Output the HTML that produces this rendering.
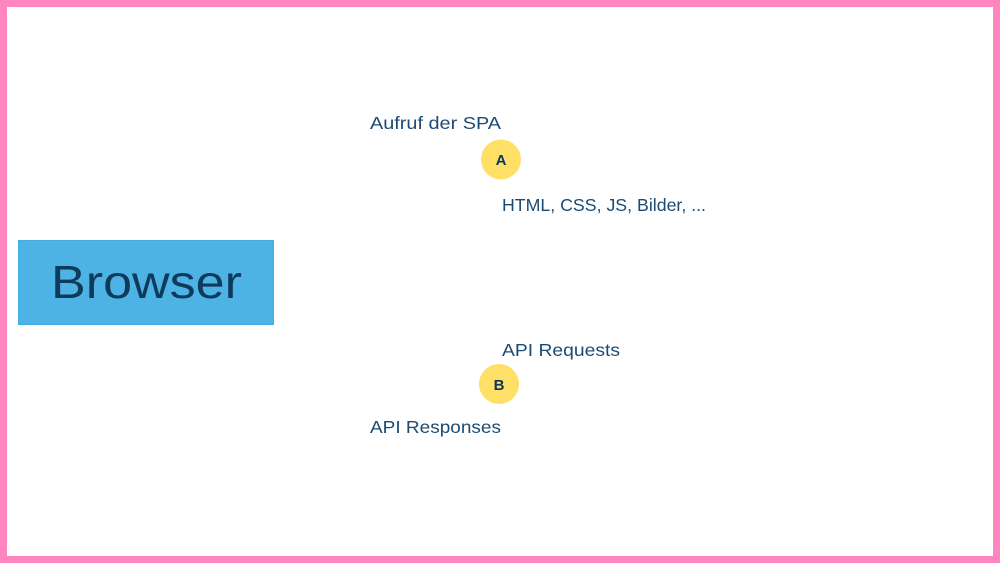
<!DOCTYPE html>
<html>
<head>
<meta charset="utf-8">
<style>
html,body{margin:0;padding:0;background:#fff;}
body{width:1000px;height:563px;overflow:hidden;}
svg{display:block;}
</style>
</head>
<body>
<svg width="1000" height="563" viewBox="0 0 1000 563" xmlns="http://www.w3.org/2000/svg">
  <rect x="0" y="0" width="1000" height="563" fill="#ff85c0"/>
  <rect x="7" y="7" width="986" height="549" fill="#ffffff"/>

  <rect x="18.5" y="240.5" width="255" height="84" fill="#4db3e4" stroke="#45acdf" stroke-width="1"/>
  <text x="51" y="298" font-family="Liberation Sans, sans-serif" font-size="46" fill="#0e3a5c" textLength="191" lengthAdjust="spacingAndGlyphs">Browser</text>

  <g font-family="Liberation Sans, sans-serif" font-size="17.5" fill="#1b4a73">
    <text x="370" y="129" textLength="131" lengthAdjust="spacingAndGlyphs">Aufruf der SPA</text>
    <text x="502" y="211" textLength="204" lengthAdjust="spacingAndGlyphs">HTML, CSS, JS, Bilder, ...</text>
    <text x="502" y="356" textLength="118" lengthAdjust="spacingAndGlyphs">API Requests</text>
    <text x="370" y="433" textLength="131" lengthAdjust="spacingAndGlyphs">API Responses</text>
  </g>

  <circle cx="501" cy="159.5" r="20" fill="#ffe066"/>
  <text x="501" y="165" text-anchor="middle" font-family="Liberation Sans, sans-serif" font-weight="bold" font-size="15" fill="#0d3558">A</text>

  <circle cx="499" cy="384" r="20" fill="#ffe066"/>
  <text x="499" y="390" text-anchor="middle" font-family="Liberation Sans, sans-serif" font-weight="bold" font-size="15" fill="#0d3558">B</text>
</svg>
</body>
</html>
